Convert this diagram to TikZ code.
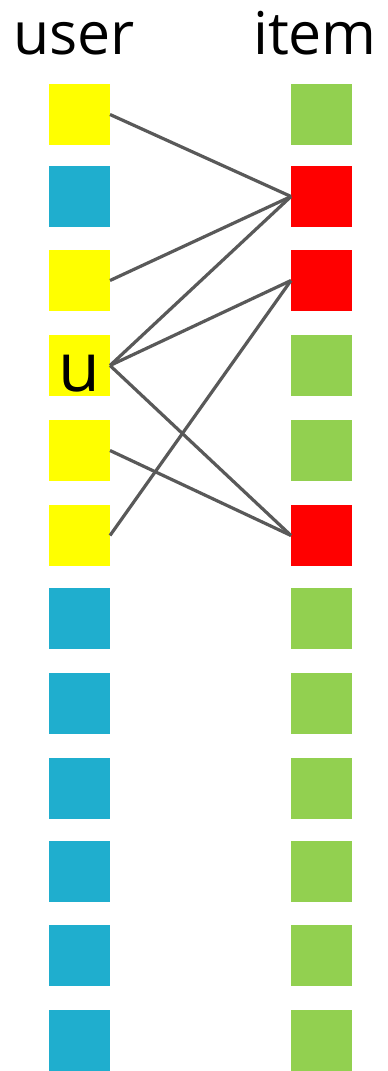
\documentclass[tikz,border=0pt]{standalone}
\usepackage{fontspec}
\setmainfont{Open Sans}
\definecolor{uyel}{RGB}{255,255,0}
\definecolor{ublue}{RGB}{31,174,206}
\definecolor{igreen}{RGB}{146,208,80}
\definecolor{ired}{RGB}{255,0,0}
\definecolor{edgegray}{RGB}{89,89,89}
\begin{document}
\begin{tikzpicture}[x=1pt,y=-1pt,
  sq/.style={minimum size=61pt,inner sep=0pt,outer sep=0pt,draw=none,anchor=north west},
  title/.style={anchor=base,inner sep=0pt,font=\fontsize{59}{64}\selectfont},
  link/.style={draw=edgegray,line width=3.2pt}]
\useasboundingbox (0,0) rectangle (388,1071);
\fill[white] (0,0) rectangle (388,1071);
\node[title] (tu) at (74,54) {user};
\node[title] (ti) at (315,54) {item};
% left column
\node[sq,fill=uyel]  (u0)  at (49,84) {};
\node[sq,fill=ublue] (u1)  at (49,166) {};
\node[sq,fill=uyel]  (u2)  at (49,250) {};
\node[sq,fill=uyel]  (u3)  at (49,335) {};
\node[sq,fill=uyel]  (u4)  at (49,420) {};
\node[sq,fill=uyel]  (u5)  at (49,505) {};
\node[sq,fill=ublue] (u6)  at (49,588) {};
\node[sq,fill=ublue] (u7)  at (49,673) {};
\node[sq,fill=ublue] (u8)  at (49,758) {};
\node[sq,fill=ublue] (u9)  at (49,841) {};
\node[sq,fill=ublue] (u10) at (49,925) {};
\node[sq,fill=ublue] (u11) at (49,1010) {};
\node[anchor=base,inner sep=0pt,font=\fontsize{68}{68}\selectfont] (ulab) at (79,391) {u};
% right column
\node[sq,fill=igreen] (i0)  at (291,84) {};
\node[sq,fill=ired]   (i1)  at (291,166) {};
\node[sq,fill=ired]   (i2)  at (291,250) {};
\node[sq,fill=igreen] (i3)  at (291,335) {};
\node[sq,fill=igreen] (i4)  at (291,420) {};
\node[sq,fill=ired]   (i5)  at (291,505) {};
\node[sq,fill=igreen] (i6)  at (291,588) {};
\node[sq,fill=igreen] (i7)  at (291,673) {};
\node[sq,fill=igreen] (i8)  at (291,758) {};
\node[sq,fill=igreen] (i9)  at (291,841) {};
\node[sq,fill=igreen] (i10) at (291,925) {};
\node[sq,fill=igreen] (i11) at (291,1010) {};
% links
\draw[link] (u0.east) -- (i1.west);
\draw[link] (u2.east) -- (i1.west);
\draw[link] (u3.east) -- (i1.west);
\draw[link] (u3.east) -- (i2.west);
\draw[link] (u3.east) -- (i5.west);
\draw[link] (u4.east) -- (i5.west);
\draw[link] (u5.east) -- (i2.west);
\end{tikzpicture}
\end{document}
